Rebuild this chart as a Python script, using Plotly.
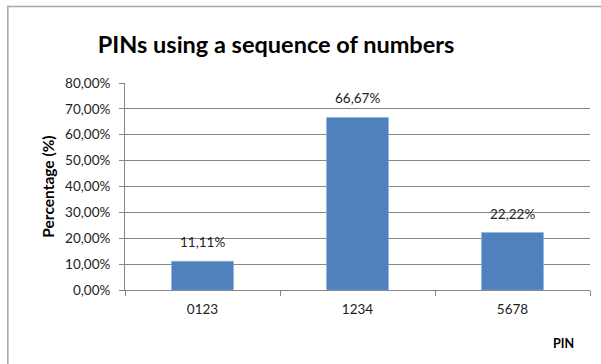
import plotly.graph_objects as go

# Share of PINs that follow a sequence of digits
pins = ["0123", "1234", "5678"]
shares = [0.1111, 0.6667, 0.2222]
y_ticks = [0, 0.1, 0.2, 0.3, 0.4, 0.5, 0.6, 0.7, 0.8]

FONT = "Lato, Open Sans, sans-serif"
BAR_BLUE = "#4F81BD"

fig = go.Figure(
    go.Bar(
        x=pins,
        y=shares,
        width=0.4,
        marker=dict(color=BAR_BLUE, line=dict(color="#8EB4E3", width=0.6)),
        hoverinfo="skip",
    )
)

# Value labels above each bar (category index on the x axis)
for i, share in enumerate(shares):
    fig.add_annotation(
        x=i, y=share,
        text=f"{share * 100:.2f}%".replace(".", ","),
        showarrow=False,
        yanchor="bottom",
        yshift=9,
        font=dict(family=FONT, size=13.5, color="#222222"),
    )

fig.update_layout(
    width=601,
    height=364,
    margin=dict(l=125, r=11, t=83, b=74),
    paper_bgcolor="white",
    plot_bgcolor="white",
    separators=",.",
    showlegend=False,
    font=dict(family=FONT, size=13, color="#222222"),
    title=dict(
        text="<b>PINs using a sequence of numbers</b>",
        xref="container",
        x=276 / 601,
        xanchor="center",
        yref="container",
        y=1 - 45 / 364,
        yanchor="middle",
        font=dict(family=FONT, size=23.5, color="black"),
    ),
)

fig.update_xaxes(
    type="category",
    categoryorder="array",
    categoryarray=pins,
    range=[-0.5, len(pins) - 0.5],
    tickson="boundaries",
    ticks="outside",
    ticklen=5,
    tickcolor="#868686",
    showline=True,
    linecolor="#868686",
    linewidth=1,
    showgrid=False,
    ticklabelstandoff=7,
    tickfont=dict(family=FONT, size=13.5, color="#222222"),
)

fig.update_yaxes(
    range=[0, 0.8],
    tickvals=y_ticks,
    tickformat=".2%",
    ticks="outside",
    ticklen=5,
    tickcolor="#868686",
    showline=True,
    linecolor="#868686",
    linewidth=1,
    showgrid=True,
    gridcolor="#868686",
    gridwidth=1,
    zeroline=False,
    ticklabelstandoff=6,
    tickfont=dict(family=FONT, size=13.5, color="#222222"),
    title=dict(
        text="<b>Percentage (%)</b>",
        font=dict(family=FONT, size=15.5, color="black"),
        standoff=6,
    ),
)

# Axis title for the categories, placed at the lower right
fig.add_annotation(
    text="<b>PIN</b>",
    xref="paper", yref="paper",
    x=(563 - 125) / 465, y=(290 - 343) / 207,
    xanchor="center", yanchor="middle",
    showarrow=False,
    font=dict(family=FONT, size=12.5, color="black"),
)

# Chart frame running off the right and bottom edges
fig.add_shape(
    type="rect",
    xref="paper", yref="paper",
    x0=-0.252, y0=-0.5, x1=1.2, y1=1.37,
    line=dict(color="#A6A6A6", width=1.5),
    fillcolor="rgba(0,0,0,0)",
    layer="below",
)

fig.write_html("out.html")
